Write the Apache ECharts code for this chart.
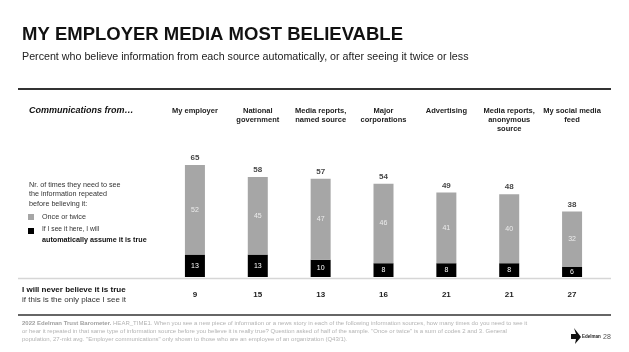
<!DOCTYPE html>
<html>
<head>
<meta charset="utf-8">
<script src="https://cdn.jsdelivr.net/npm/echarts@6/dist/echarts.min.js"></script>
<style>
    html, body { margin: 0; padding: 0; background: #fff; }
    #chart { width: 629px; height: 352px; }
</style>
</head>
<body>
<div id="chart"></div>
<script>
// sources along the top
var sources = ['My employer', 'National\ngovernment', 'Media reports,\nnamed source', 'Major\ncorporations',
    'Advertising', 'Media reports,\nanonymous\nsource', 'My social media\nfeed'];
// "if I see it here I will automatically assume it is true"
var autoTrue = [13, 13, 10, 8, 8, 8, 6];
// "once or twice"
var onceTwice = [52, 45, 47, 46, 41, 40, 32];
// totals printed above bars
var totals = [65, 58, 57, 54, 49, 48, 38];
// "I will never believe it is true" row
var neverTrue = [9, 15, 13, 16, 21, 21, 27];

var font = '"Liberation Sans", Arial, sans-serif';
var chart = echarts.init(document.getElementById('chart'), null, {renderer: 'canvas'});

function txt(x, y, s, style) {
    return {
        type: 'text', x: x, y: y,
        style: Object.assign({text: s, font: '7.2px ' + font, fill: '#333', verticalAlign: 'middle'}, style || {})
    };
}

var footnote = '{b|2022 Edelman Trust Barometer.} HEAR_TIME1. When you see a new piece of information or a news story in each of the following information sources, how many times do you need to see it\n' +
    'or hear it repeated in that same type of information source before you believe it is really true? Question asked of half of the sample. "Once or twice" is a sum of codes 2 and 3. General\n' +
    'population, 27-mkt avg. "Employer communications" only shown to those who are an employee of an organization (Q43/1).';

var option = {
    backgroundColor: '#fff',
    animation: false,
    textStyle: {fontFamily: font},
    grid: {left: 163.5, right: 25.5, top: 139, bottom: 75},
    xAxis: [
        {
            type: 'category',
            data: sources,
            axisLine: {show: false},
            axisTick: {show: false},
            axisLabel: {
                interval: 0,
                margin: 14,
                fontSize: 8,
                fontWeight: 'bold',
                color: '#222',
                formatter: function(v, i) {
                    return neverTrue[i];
                }
            }
        },
        {
            type: 'category',
            position: 'top',
            data: sources,
            axisLine: {show: false},
            axisTick: {show: false},
            axisLabel: {
                interval: 0,
                hideOverlap: false,
                margin: 33,
                verticalAlign: 'top',
                fontSize: 7.5,
                lineHeight: 9,
                fontWeight: 'bold',
                color: '#222'
            }
        }
    ],
    yAxis: {
        type: 'value',
        min: 0,
        max: 80,
        show: false,
        splitLine: {show: false}
    },
    series: [
        {
            name: 'If I see it here, I will automatically assume it is true',
            type: 'bar',
            stack: 'all',
            barWidth: 20,
            data: autoTrue,
            itemStyle: {color: '#000'},
            label: {show: true, position: 'inside', color: '#fff', fontSize: 7}
        },
        {
            name: 'Once or twice',
            type: 'bar',
            stack: 'all',
            barWidth: 20,
            data: onceTwice,
            itemStyle: {color: '#a6a6a6'},
            label: {show: true, position: 'inside', color: '#ececec', fontSize: 7}
        },
        {
            name: 'total',
            type: 'scatter',
            data: totals,
            symbolSize: 0,
            label: {show: true, position: 'top', distance: 3, fontSize: 8, fontWeight: 'bold', color: '#111'}
        }
    ],
    graphic: [
        txt(22, 35, 'MY EMPLOYER MEDIA MOST BELIEVABLE', {font: 'bold 18.5px ' + font, fill: '#111'}),
        txt(22, 57, 'Percent who believe information from each source automatically, or after seeing it twice or less', {font: '10.7px ' + font, fill: '#222'}),
        {type: 'line', shape: {x1: 18, y1: 89, x2: 611, y2: 89}, style: {stroke: '#333', lineWidth: 2}},
        txt(29, 111, 'Communications from…', {font: 'italic bold 9px ' + font, fill: '#111'}),

        // legend block
        txt(29, 185, 'Nr. of times they need to see', {}),
        txt(29, 194.5, 'the information repeated', {}),
        txt(29, 204, 'before believing it:', {}),
        {type: 'rect', shape: {x: 28, y: 214, width: 6, height: 6}, style: {fill: '#a6a6a6'}},
        txt(42, 217, 'Once or twice', {}),
        {type: 'rect', shape: {x: 28, y: 228, width: 6, height: 6}, style: {fill: '#000'}},
        txt(42, 229, 'If I see it here, I will', {font: '6.7px ' + font}),
        txt(42, 240, 'automatically assume it is true', {font: 'bold 7.2px ' + font, fill: '#111'}),

        // baseline and never row
        {type: 'line', shape: {x1: 18, y1: 278.5, x2: 611, y2: 278.5}, style: {stroke: '#d6d6d6', lineWidth: 1.5}},
        txt(22, 290, 'I will never believe it is true', {font: 'bold 8px ' + font, fill: '#111'}),
        txt(22, 299.5, 'if this is the only place I see it', {font: '8px ' + font, fill: '#333'}),

        // footer
        {type: 'line', shape: {x1: 18, y1: 315, x2: 611, y2: 315}, style: {stroke: '#333', lineWidth: 1.5}},
        {
            type: 'text', x: 22, y: 319,
            style: {
                text: footnote,
                font: '6px ' + font,
                fill: '#b3b3b3',
                lineHeight: 8.3,
                rich: {b: {fontWeight: 'bold', fontSize: 6, fill: '#a0a0a0'}}
            }
        },
        {
            type: 'polygon',
            shape: {points: [[571, 334], [576, 334], [574, 328], [581, 337], [575, 344], [576, 339], [571, 339]]},
            style: {fill: '#111'}
        },
        txt(582, 337, 'Edelman', {font: 'bold 4.5px ' + font, fill: '#222'}),
        txt(603, 337, '28', {font: '7px ' + font, fill: '#555'})
    ]
};

chart.setOption(option);
</script>
</body>
</html>
